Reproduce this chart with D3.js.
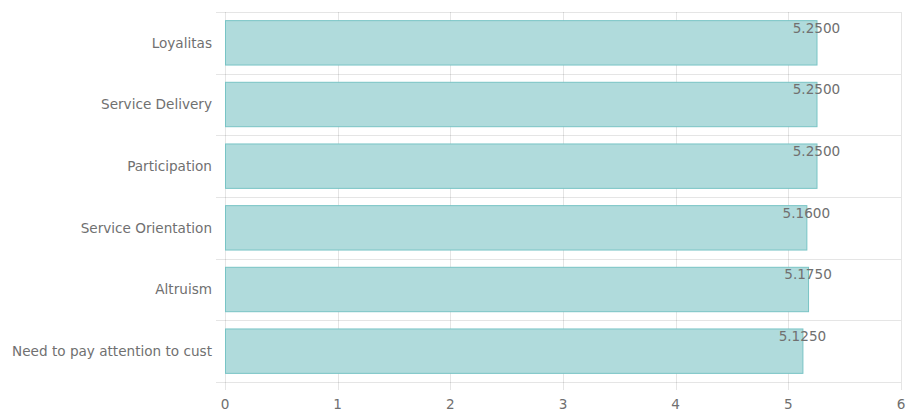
<!DOCTYPE html>
<html>
<head>
<meta charset="utf-8">
<script src="https://cdn.jsdelivr.net/npm/d3@7"></script>
<style>
  html, body { margin: 0; padding: 0; background: #fff; }
  svg { display: block; }
  text { font-family: "DejaVu Sans", Verdana, sans-serif; }
</style>
</head>
<body>
<svg id="chart" width="906" height="412"></svg>
<script>
// Mean scores per dimension
const categories = [
  "Loyalitas",
  "Service Delivery",
  "Participation",
  "Service Orientation",
  "Altruism",
  "Need to pay attention to cust"
];
const values = [5.25, 5.25, 5.25, 5.16, 5.175, 5.125];
const valueLabels = ["5.2500", "5.2500", "5.2500", "5.1600", "5.1750", "5.1250"];
const xTicks = [0, 1, 2, 3, 4, 5, 6];

const svg = d3.select("#chart");
const margin = { top: 12, right: 5, bottom: 30, left: 225 };
const width = 906, height = 412;
const innerW = width - margin.left - margin.right;
const innerH = height - margin.top - margin.bottom;

const x = d3.scaleLinear().domain([0, 6]).range([0, innerW]);
const y = d3.scaleBand().domain(categories).range([0, innerH]).paddingInner(0.28).paddingOuter(0.14);
const band = d3.scaleBand().domain(categories).range([0, innerH]);

const g = svg.append("g").attr("transform", `translate(${margin.left},${margin.top})`);
const gridColor = "rgba(0,0,0,0.1)";
const textColor = "#707070";
const fontSize = 13.6;

// vertical grid lines with tick marks below the plot
g.append("g").selectAll("line").data(xTicks).join("line")
  .attr("x1", d => Math.round(x(d)) + 0.5).attr("x2", d => Math.round(x(d)) + 0.5)
  .attr("y1", 0).attr("y2", innerH + 8)
  .attr("stroke", gridColor).attr("stroke-width", 1);

// horizontal grid lines at category boundaries, with tick marks to the left
const bounds = categories.map(c => band(c)).concat([innerH]);
g.append("g").selectAll("line").data(bounds).join("line")
  .attr("x1", -9).attr("x2", innerW)
  .attr("y1", d => Math.round(d) + 0.5).attr("y2", d => Math.round(d) + 0.5)
  .attr("stroke", gridColor).attr("stroke-width", 1);

// bars
g.append("g").selectAll("rect").data(values).join("rect")
  .attr("x", x(0) + 0.5)
  .attr("y", (d, i) => y(categories[i]))
  .attr("width", d => x(d) - x(0))
  .attr("height", y.bandwidth())
  .attr("fill", "#b0dbdc")
  .attr("stroke", "#78c4c5")
  .attr("stroke-width", 1);

// value labels
g.append("g").selectAll("text").data(values).join("text")
  .attr("x", d => x(d))
  .attr("y", (d, i) => y(categories[i]) + 12)
  .attr("text-anchor", "middle")
  .attr("font-size", fontSize)
  .attr("fill", textColor)
  .text((d, i) => valueLabels[i]);

// category labels
g.append("g").selectAll("text").data(categories).join("text")
  .attr("x", -13)
  .attr("y", d => band(d) + band.bandwidth() / 2)
  .attr("dy", "0.35em")
  .attr("text-anchor", "end")
  .attr("font-size", fontSize)
  .attr("fill", textColor)
  .text(d => d);

// x tick labels
g.append("g").selectAll("text").data(xTicks).join("text")
  .attr("x", d => x(d))
  .attr("y", innerH + 27)
  .attr("text-anchor", "middle")
  .attr("font-size", fontSize)
  .attr("fill", textColor)
  .text(d => d);
</script>
</body>
</html>
